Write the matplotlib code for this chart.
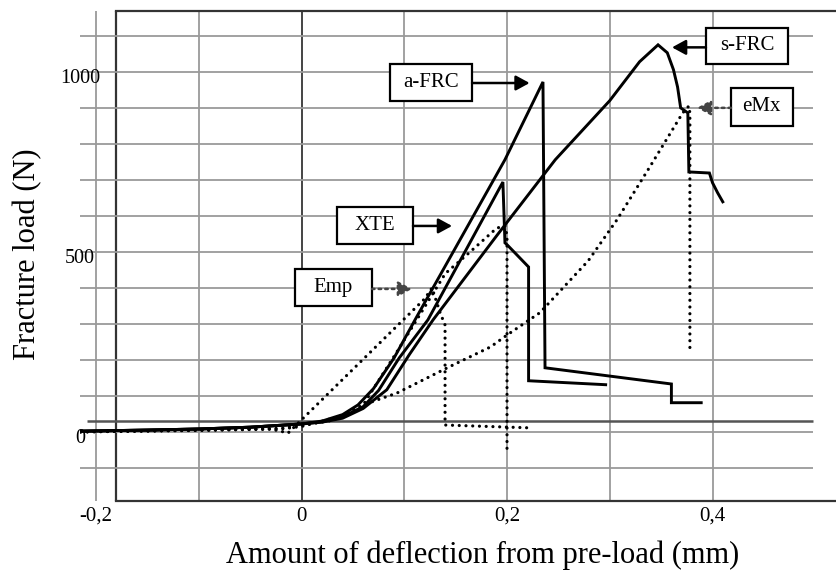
import matplotlib
matplotlib.use("Agg")
import matplotlib.pyplot as plt
import matplotlib.transforms as mtransforms
from matplotlib.patches import Rectangle

plt.rcParams['font.family'] = ['Liberation Serif', 'DejaVu Serif']

# curves: deflection (mm) / load (N)
afrc_x = [-0.215, -0.15, -0.1, -0.05, 0.0, 0.02, 0.04, 0.055, 0.07, 0.09, 0.112, 0.15, 0.198, 0.235, 0.237, 0.360, 0.360, 0.389]
afrc_y = [2, 5, 8, 13, 22, 30, 48, 75, 120, 205, 319, 512, 756, 972, 178, 133, 81, 81]

xte_x = [-0.215, -0.15, -0.1, -0.05, 0.0, 0.02, 0.04, 0.06, 0.075, 0.095, 0.123, 0.16, 0.196, 0.198, 0.200, 0.221, 0.221, 0.296]
xte_y = [2, 5, 8, 13, 22, 28, 42, 70, 115, 205, 311, 505, 694, 525, 520, 458, 142, 131]

sfrc_x = [-0.215, -0.15, -0.1, -0.05, 0.0, 0.02, 0.04, 0.06, 0.083, 0.105, 0.128, 0.19, 0.247, 0.30, 0.329,
          0.347, 0.356, 0.362, 0.366, 0.369, 0.376, 0.377, 0.397, 0.400, 0.405, 0.410]
sfrc_y = [2, 5, 8, 13, 22, 27, 38, 65, 117, 215, 311, 545, 756, 920, 1028,
          1075, 1053, 1006, 958, 900, 886, 722, 719, 692, 664, 639]

emp_x = [-0.215, -0.1, -0.03, -0.013, 0.12, 0.127, 0.135, 0.1397, 0.1397, 0.224]
emp_y = [0, 5, 8, -3, 370, 400, 330, 297, 19, 11]

dot3_x = [-0.215, -0.1, -0.02, 0.0, 0.03, 0.06, 0.093, 0.14, 0.159, 0.19, 0.198, 0.2, 0.2]
dot3_y = [0, 5, 10, 18, 32, 75, 223, 440, 487, 566, 572, 545, -50]

emx_x = [-0.215, -0.1, -0.02, 0.0, 0.04, 0.066, 0.093, 0.144, 0.184, 0.2, 0.232, 0.279, 0.307, 0.339,
         0.371, 0.377, 0.378, 0.378]
emx_y = [0, 4, 8, 15, 45, 81, 108, 181, 236, 269, 331, 475, 589, 736,
         886, 905, 885, 233]

xtick_vals = [-0.2, 0, 0.2, 0.4]
xtick_labels = ['-0,2', '0', '0,2', '0,4']
ytick_vals = [0, 500, 1000]
ytick_labels = ['0', '500', '1000']

# label boxes: text, box centre, box size, arrow start/end
labels = [
    ('a-FRC', 0.126, 971, 0.080, 103, 0.166, 0.222, 969, '-'),
    ('s-FRC', 0.4336, 1072, 0.080, 101, 0.3936, 0.3606, 1068, '-'),
    ('eMx', 0.448, 903, 0.060, 105, 0.418, 0.3849, 900, ':'),
    ('XTE', 0.0715, 574, 0.074, 103, 0.1085, 0.1465, 572, '-'),
    ('Emp', 0.0311, 401, 0.075, 103, 0.0686, 0.1075, 397, ':'),
]

fig = plt.figure(figsize=(8.36, 5.72), dpi=100)
ax = fig.add_axes([80 / 836, 71 / 572, 756 / 836, 490 / 572])
ax.set_xlim(-0.2156, 0.5202)
ax.set_ylim(-192, 1169)

grey = '#9a9a9a'
dark = '#333333'

# grid
for v in [-0.1, 0.1, 0.2, 0.3, 0.4]:
    ax.axvline(v, color=grey, lw=1.3, zorder=1)
ax.axvline(0, color='#444444', lw=1.4, zorder=1)
ax.axvline(-0.2, color=grey, lw=1.3, zorder=1)
ax.axvline(-0.1805, color=dark, lw=1.6, zorder=1)
for h in range(-100, 1200, 100):
    ax.hlines(h, -0.2156, 0.4978, color=grey, lw=1.3, zorder=1)
ax.hlines(30, -0.209, 0.4978, color='#555555', lw=1.8, zorder=1)

for s in ['left', 'right']:
    ax.spines[s].set_visible(False)
for s in ['top', 'bottom']:
    ax.spines[s].set_bounds(-0.1805, 0.5202)
    ax.spines[s].set_color(dark)
    ax.spines[s].set_linewidth(1.6)

# curves
solid = dict(color='black', lw=2.1, zorder=3, solid_joinstyle='miter')
dotted = dict(color='black', lw=2.3, ls=(0, (0.01, 2.1)), zorder=3, dash_capstyle='round')
ax.plot(afrc_x, afrc_y, **solid)
ax.plot(xte_x, xte_y, **solid)
ax.plot(sfrc_x, sfrc_y, **solid)
ax.plot(emp_x, emp_y, **dotted)
ax.plot(dot3_x, dot3_y, **dotted)
ax.plot(emx_x, emx_y, **dotted)

# label boxes with arrows
for txt, cx, cy, w, h, a0, a1, ay, style in labels:
    ax.add_patch(Rectangle((cx - w / 2, cy - h / 2), w, h, fc='white', ec='black', lw=1.6, zorder=4))
    ax.text(cx, cy, txt, ha='center', va='center', fontsize=15, zorder=5)
    ax.annotate('', xy=(a1, ay), xytext=(a0, ay),
                arrowprops=dict(arrowstyle='-|>,head_length=0.55,head_width=0.3',
                                color='black' if style == '-' else '#444444',
                                lw=1.8, ls=style, shrinkA=0, shrinkB=0,
                                mutation_scale=15), zorder=5)

ax.set_xticks(xtick_vals, xtick_labels)
ax.set_yticks(ytick_vals, ytick_labels)
ax.tick_params(axis='x', length=0, pad=4, labelsize=15)
ax.tick_params(axis='y', length=0, pad=0, labelsize=14.5)
offset = mtransforms.ScaledTranslation(0, -4 / 100, fig.dpi_scale_trans)
for lab in ax.get_yticklabels():
    lab.set_horizontalalignment('center')
    lab.set_transform(lab.get_transform() + offset)

ax.set_xlabel('Amount of deflection from pre-load (mm)', fontsize=22)
ax.xaxis.set_label_coords(0.533, -0.08)
ax.set_ylabel('Fracture load (N)', fontsize=22)
ax.yaxis.set_label_coords(-0.05, 0.504)

fig.savefig('out.png', dpi=100)
